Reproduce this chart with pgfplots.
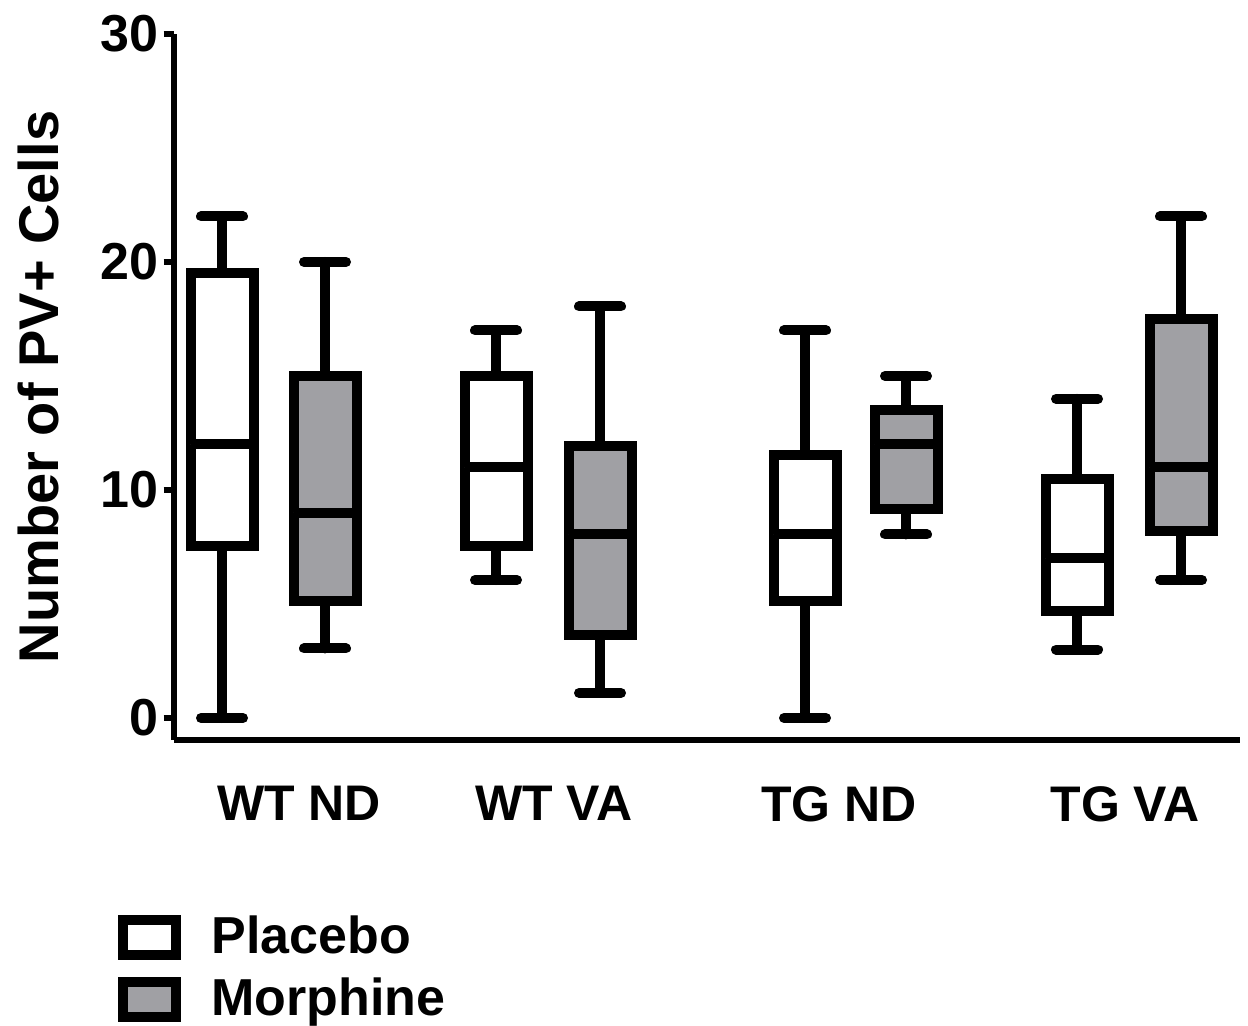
\documentclass[border=0pt]{standalone}
\usepackage{fontspec}
\setmainfont{Liberation Sans}
\usepackage{pgfplots}
\pgfplotsset{compat=1.18}
\usepgfplotslibrary{statistics}
\definecolor{boxgray}{RGB}{160,160,164}
\pgfplotsset{sqlegend/.style={legend image code/.code={\draw[line width=2.5pt,##1] (0pt,-4.4pt) rectangle (13.25pt,4.4pt); \path (20pt,0pt);}}}
\begin{document}
\begin{tikzpicture}
\begin{axis}[
  name=ax,
  scale only axis,
  width=266.5pt, height=176.5pt,
  xmin=174, xmax=1240,
  ymin=-0.965, ymax=30,
  clip=false,
  axis x line=bottom, axis y line=left,
  axis line style={-, line width=1.3pt, black},
  ytick={0,10,20,30},
  xtick={299,554,839,1125},
  xticklabels={WT ND, WT VA, TG ND, TG VA},
  tick align=outside,
  major tick length=2.6pt,
  ytick style={line width=1.3pt, black},
  xtick style={draw=none},
  /pgf/number format/assume math mode=true,
  yticklabel style={font=\fontsize{13}{15}\selectfont\bfseries, inner sep=1pt},
  xticklabel style={font=\fontsize{12.5}{15}\selectfont\bfseries, yshift=-5.5pt},
  ylabel={Number of PV+ Cells},
  ylabel style={font=\fontsize{14}{16}\selectfont\bfseries, yshift=6pt},
  boxplot/draw direction=y,
  boxplot/every box/.style={line width=2.5pt},
  boxplot/every whisker/.style={line width=2.5pt, line cap=round},
  boxplot/every median/.style={line width=2.5pt},
  legend style={at={(rel axis cs:-0.0535,-0.2365)}, anchor=north west, draw=none, fill=none,
    inner sep=0pt, font=\fontsize{13}{15}\selectfont\bfseries, row sep=0.5pt, cells={anchor=west}},
]
% Placebo (white)
\addplot[forget plot, draw=black, fill=white, boxplot prepared={draw position=222, lower whisker=0, lower quartile=7.55, median=12.0, upper quartile=19.5, upper whisker=22.0, box extend=63, whisker extend=42}] coordinates {};
\addplot[forget plot, draw=black, fill=white, boxplot prepared={draw position=496, lower whisker=6.05, lower quartile=7.55, median=11.0, upper quartile=15.0, upper whisker=17.0, box extend=63, whisker extend=42}] coordinates {};
\addplot[forget plot, draw=black, fill=white, boxplot prepared={draw position=805, lower whisker=0, lower quartile=5.15, median=8.05, upper quartile=11.55, upper whisker=17.0, box extend=63, whisker extend=42}] coordinates {};
\addplot[forget plot, draw=black, fill=white, boxplot prepared={draw position=1077, lower whisker=3.0, lower quartile=4.7, median=7.0, upper quartile=10.5, upper whisker=14.0, box extend=63, whisker extend=42}] coordinates {};
% Morphine (gray)
\addplot[forget plot, draw=black, fill=boxgray, boxplot prepared={draw position=325, lower whisker=3.05, lower quartile=5.15, median=9.0, upper quartile=15.0, upper whisker=20.0, box extend=63, whisker extend=42}] coordinates {};
\addplot[forget plot, draw=black, fill=boxgray, boxplot prepared={draw position=600, lower whisker=1.1, lower quartile=3.65, median=8.05, upper quartile=11.95, upper whisker=18.05, box extend=63, whisker extend=42}] coordinates {};
\addplot[forget plot, draw=black, fill=boxgray, boxplot prepared={draw position=906, lower whisker=8.05, lower quartile=9.15, median=12.0, upper quartile=13.5, upper whisker=15.0, box extend=63, whisker extend=42}] coordinates {};
\addplot[forget plot, draw=black, fill=boxgray, boxplot prepared={draw position=1181, lower whisker=6.05, lower quartile=8.2, median=11.0, upper quartile=17.5, upper whisker=22.0, box extend=63, whisker extend=42}] coordinates {};
\addlegendimage{sqlegend, draw=black, fill=white}
\addlegendentry{Placebo}
\addlegendimage{sqlegend, draw=black, fill=boxgray}
\addlegendentry{Morphine}
\end{axis}
\pgfresetboundingbox
\path ([shift={(-43.5pt,-71.25pt)}]ax.south west) rectangle ([shift={(2pt,8.5pt)}]ax.north east);
\end{tikzpicture}
\end{document}
